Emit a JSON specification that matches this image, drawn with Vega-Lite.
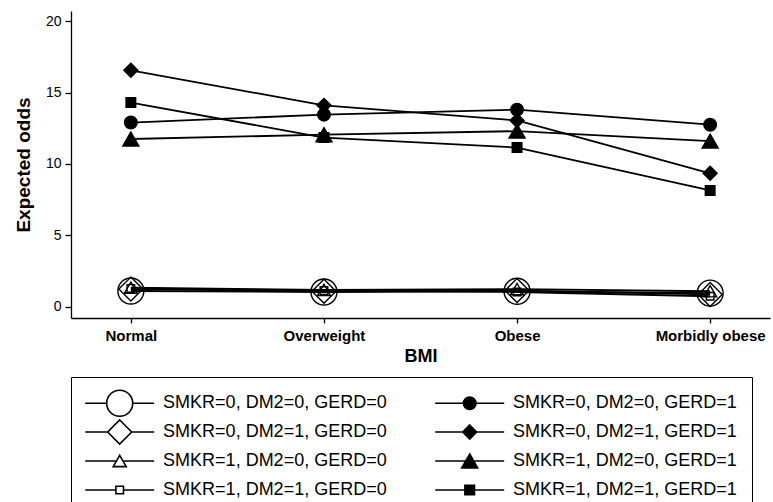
{
  "$schema": "https://vega.github.io/schema/vega-lite/v6.json",
  "width": 699,
  "height": 307,
  "autosize": {"type": "none"},
  "padding": {"left": 71, "top": 11, "right": 3, "bottom": 184},
  "background": "white",
  "data": {
    "values": [
      {"bmi": "Normal", "series": "SMKR=0, DM2=0, GERD=0", "odds": 1.12},
      {"bmi": "Overweight", "series": "SMKR=0, DM2=0, GERD=0", "odds": 1.05},
      {"bmi": "Obese", "series": "SMKR=0, DM2=0, GERD=0", "odds": 1.1},
      {"bmi": "Morbidly obese", "series": "SMKR=0, DM2=0, GERD=0", "odds": 0.97},
      {"bmi": "Normal", "series": "SMKR=0, DM2=0, GERD=1", "odds": 12.9},
      {"bmi": "Overweight", "series": "SMKR=0, DM2=0, GERD=1", "odds": 13.45},
      {"bmi": "Obese", "series": "SMKR=0, DM2=0, GERD=1", "odds": 13.8},
      {"bmi": "Morbidly obese", "series": "SMKR=0, DM2=0, GERD=1", "odds": 12.75},
      {"bmi": "Normal", "series": "SMKR=0, DM2=1, GERD=0", "odds": 1.25},
      {"bmi": "Overweight", "series": "SMKR=0, DM2=1, GERD=0", "odds": 1.1},
      {"bmi": "Obese", "series": "SMKR=0, DM2=1, GERD=0", "odds": 1.15},
      {"bmi": "Morbidly obese", "series": "SMKR=0, DM2=1, GERD=0", "odds": 0.88},
      {"bmi": "Normal", "series": "SMKR=0, DM2=1, GERD=1", "odds": 16.55},
      {"bmi": "Overweight", "series": "SMKR=0, DM2=1, GERD=1", "odds": 14.1},
      {"bmi": "Obese", "series": "SMKR=0, DM2=1, GERD=1", "odds": 13.05},
      {"bmi": "Morbidly obese", "series": "SMKR=0, DM2=1, GERD=1", "odds": 9.35},
      {"bmi": "Normal", "series": "SMKR=1, DM2=0, GERD=0", "odds": 1.35},
      {"bmi": "Overweight", "series": "SMKR=1, DM2=0, GERD=0", "odds": 1.2},
      {"bmi": "Obese", "series": "SMKR=1, DM2=0, GERD=0", "odds": 1.25},
      {"bmi": "Morbidly obese", "series": "SMKR=1, DM2=0, GERD=0", "odds": 1.1},
      {"bmi": "Normal", "series": "SMKR=1, DM2=0, GERD=1", "odds": 11.75},
      {"bmi": "Overweight", "series": "SMKR=1, DM2=0, GERD=1", "odds": 12.05},
      {"bmi": "Obese", "series": "SMKR=1, DM2=0, GERD=1", "odds": 12.3},
      {"bmi": "Morbidly obese", "series": "SMKR=1, DM2=0, GERD=1", "odds": 11.6},
      {"bmi": "Normal", "series": "SMKR=1, DM2=1, GERD=0", "odds": 1.3},
      {"bmi": "Overweight", "series": "SMKR=1, DM2=1, GERD=0", "odds": 1.15},
      {"bmi": "Obese", "series": "SMKR=1, DM2=1, GERD=0", "odds": 1.05},
      {"bmi": "Morbidly obese", "series": "SMKR=1, DM2=1, GERD=0", "odds": 0.75},
      {"bmi": "Normal", "series": "SMKR=1, DM2=1, GERD=1", "odds": 14.3},
      {"bmi": "Overweight", "series": "SMKR=1, DM2=1, GERD=1", "odds": 11.85},
      {"bmi": "Obese", "series": "SMKR=1, DM2=1, GERD=1", "odds": 11.15},
      {"bmi": "Morbidly obese", "series": "SMKR=1, DM2=1, GERD=1", "odds": 8.15}
    ]
  },
  "encoding": {
    "x": {
      "field": "bmi",
      "type": "nominal",
      "title": "BMI",
      "scale": {"type": "point", "padding": 0.31, "domain": ["Normal", "Overweight", "Obese", "Morbidly obese"]},
      "axis": {
        "labelAngle": 0,
        "labelFontWeight": "bold",
        "labelFontSize": 15,
        "labelPadding": 5,
        "tickSize": 5,
        "titleFontSize": 18,
        "titlePadding": 4
      }
    },
    "y": {
      "field": "odds",
      "type": "quantitative",
      "title": "Expected odds",
      "scale": {"domain": [-0.77, 20.7], "nice": false, "zero": false},
      "axis": {
        "values": [0, 5, 10, 15, 20],
        "labelFontSize": 14,
        "labelPadding": 4,
        "tickSize": 6,
        "titleFontSize": 19,
        "titlePadding": 12
      }
    }
  },
  "layer": [
    {
      "mark": {"type": "line", "color": "black", "strokeWidth": 1.8},
      "encoding": {"detail": {"field": "series", "type": "nominal"}}
    },
    {
      "mark": {"type": "point", "filled": true, "size": 400, "stroke": "black", "strokeWidth": 1.4, "opacity": 1},
      "encoding": {
        "shape": {
          "field": "series",
          "type": "nominal",
          "legend": null,
          "scale": {
            "domain": ["SMKR=0, DM2=0, GERD=0", "SMKR=0, DM2=0, GERD=1", "SMKR=0, DM2=1, GERD=0", "SMKR=0, DM2=1, GERD=1", "SMKR=1, DM2=0, GERD=0", "SMKR=1, DM2=0, GERD=1", "SMKR=1, DM2=1, GERD=0", "SMKR=1, DM2=1, GERD=1"],
            "range": [
              "M-1.3,0A1.3,1.3,0,1,1,1.3,0A1.3,1.3,0,1,1,-1.3,0Z",
              "M-0.63,0A0.63,0.63,0,1,1,0.63,0A0.63,0.63,0,1,1,-0.63,0Z",
              "M0,-1.2L1.2,0L0,1.2L-1.2,0Z",
              "M0,-0.7L0.7,0L0,0.7L-0.7,0Z",
              "M0,-0.56L0.65,0.56L-0.65,0.56Z",
              "M0,-0.7L0.8,0.7L-0.8,0.7Z",
              "M-0.38,-0.38H0.38V0.38H-0.38Z",
              "M-0.48,-0.48H0.48V0.48H-0.48Z"
            ]
          }
        },
        "color": {
          "field": "series",
          "type": "nominal",
          "legend": null,
          "scale": {
            "domain": ["SMKR=0, DM2=0, GERD=0", "SMKR=0, DM2=0, GERD=1", "SMKR=0, DM2=1, GERD=0", "SMKR=0, DM2=1, GERD=1", "SMKR=1, DM2=0, GERD=0", "SMKR=1, DM2=0, GERD=1", "SMKR=1, DM2=1, GERD=0", "SMKR=1, DM2=1, GERD=1"],
            "range": ["transparent", "black", "transparent", "black", "transparent", "black", "transparent", "black"]
          }
        }
      }
    },
    {
      "mark": {"type": "point", "filled": true, "size": 400, "stroke": "black", "strokeWidth": 1.6, "opacity": 0},
      "encoding": {
        "shape": {
          "field": "series",
          "type": "nominal",
          "legend": {
            "title": null,
            "encode": {"symbols": {"update": {"stroke": {"value": "black"}, "strokeWidth": {"value": 1.6}, "opacity": {"value": 1}}}}
          },
          "scale": {
            "domain": ["SMKR=0, DM2=0, GERD=0", "SMKR=0, DM2=0, GERD=1", "SMKR=0, DM2=1, GERD=0", "SMKR=0, DM2=1, GERD=1", "SMKR=1, DM2=0, GERD=0", "SMKR=1, DM2=0, GERD=1", "SMKR=1, DM2=1, GERD=0", "SMKR=1, DM2=1, GERD=1"],
            "range": [
              "M0,-1.33M0,1.33M-3.45,0H-1.3M1.3,0H3.45M-1.3,0A1.3,1.3,0,1,1,1.3,0A1.3,1.3,0,1,1,-1.3,0Z",
              "M0,-1.33M0,1.33M-3.45,0H3.45M-0.63,0A0.63,0.63,0,1,1,0.63,0A0.63,0.63,0,1,1,-0.63,0Z",
              "M0,-1.33M0,1.33M-3.45,0H-1.2M1.2,0H3.45M0,-1.2L1.2,0L0,1.2L-1.2,0Z",
              "M0,-1.33M0,1.33M-3.45,0H3.45M0,-0.7L0.7,0L0,0.7L-0.7,0Z",
              "M0,-1.33M0,1.33M-3.45,0H-0.325M0.325,0H3.45M0,-0.56L0.65,0.56L-0.65,0.56Z",
              "M0,-1.33M0,1.33M-3.45,0H3.45M0,-0.7L0.8,0.7L-0.8,0.7Z",
              "M0,-1.33M0,1.33M-3.45,0H-0.38M0.38,0H3.45M-0.38,-0.38H0.38V0.38H-0.38Z",
              "M0,-1.33M0,1.33M-3.45,0H3.45M-0.48,-0.48H0.48V0.48H-0.48Z"
            ]
          }
        },
        "color": {
          "field": "series",
          "type": "nominal",
          "legend": {
            "title": null,
            "encode": {"symbols": {"update": {"stroke": {"value": "black"}, "strokeWidth": {"value": 1.6}, "opacity": {"value": 1}}}}
          },
          "scale": {
            "domain": ["SMKR=0, DM2=0, GERD=0", "SMKR=0, DM2=0, GERD=1", "SMKR=0, DM2=1, GERD=0", "SMKR=0, DM2=1, GERD=1", "SMKR=1, DM2=0, GERD=0", "SMKR=1, DM2=0, GERD=1", "SMKR=1, DM2=1, GERD=0", "SMKR=1, DM2=1, GERD=1"],
            "range": ["white", "black", "white", "black", "white", "black", "white", "black"]
          }
        }
      }
    }
  ],
  "resolve": {"scale": {"shape": "independent", "color": "independent"}},
  "config": {
    "view": {"stroke": null},
    "font": "Liberation Sans",
    "axis": {
      "grid": false,
      "domainColor": "black",
      "domainWidth": 1.3,
      "tickColor": "black",
      "tickWidth": 1.3,
      "labelColor": "black",
      "labelFont": "Liberation Sans",
      "titleFont": "Liberation Sans",
      "titleColor": "black",
      "titleFontWeight": "bold"
    },
    "legend": {
      "orient": "none",
      "legendX": 0,
      "legendY": 366,
      "direction": "horizontal",
      "columns": 2,
      "gridAlign": "all",
      "symbolSize": 400,
      "symbolStrokeWidth": 1.6,
      "symbolStrokeColor": "black",
      "symbolOpacity": 1,
      "symbolOffset": 22.7,
      "labelOffset": 32.4,
      "labelFont": "Liberation Sans",
      "labelFontSize": 18,
      "labelColor": "black",
      "labelLimit": 400,
      "rowPadding": -5,
      "columnPadding": 45,
      "padding": 15,
      "strokeColor": "black",
      "fillColor": "white"
    }
  }
}
